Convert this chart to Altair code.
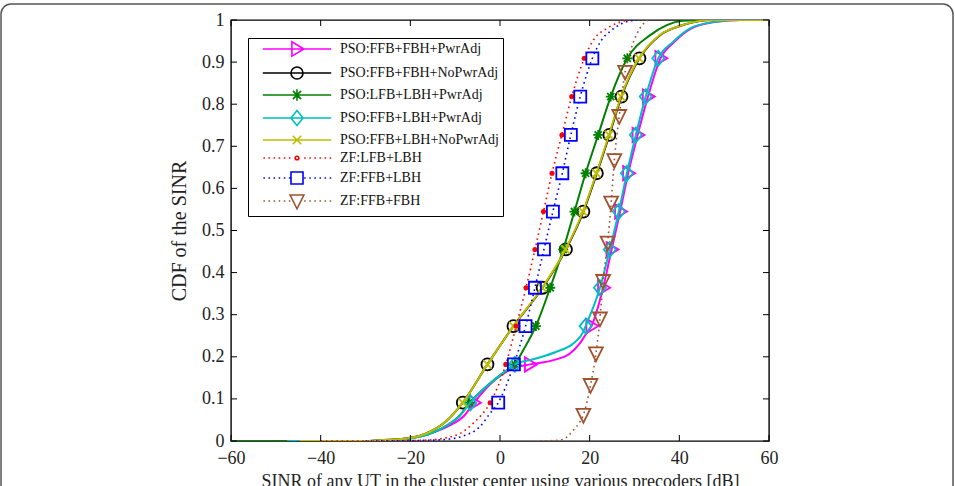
import altair as alt
import pandas as pd

SERIES = ["PSO:FFB+FBH+PwrAdj", "PSO:FFB+FBH+NoPwrAdj", "PSO:LFB+LBH+PwrAdj",
          "PSO:FFB+LBH+PwrAdj", "PSO:FFB+LBH+NoPwrAdj", "ZF:LFB+LBH",
          "ZF:FFB+LBH", "ZF:FFB+FBH"]
COLORS = ["#ff00ff", "#000000", "#008000", "#00bfbf", "#bfbf00",
          "#ff0000", "#0000ff", "#a0522d"]

X_TICKS = [-60, -40, -20, 0, 20, 40, 60]
Y_TICKS = [0, 0.1, 0.2, 0.3, 0.4, 0.5, 0.6, 0.7, 0.8, 0.9, 1.0]

MARK_Y = [0.091, 0.182, 0.273, 0.364, 0.455, 0.545, 0.636, 0.727, 0.818, 0.909]

# PSO:FFB+FBH+PwrAdj (magenta)
mag_x = [-50, -30, -25, -20, -15, -11, -8, -5.8, -2.2, 0.5, 3.0, 6.7, 11.9, 15.6, 17.8, 19.3,
         20.4, 23.0, 24.9, 26.8, 28.6, 30.7, 33.0, 35.8, 38.9, 42.7, 47.8, 54, 60]
mag_y = [0, 0, 0.002, 0.007, 0.02, 0.038, 0.06, 0.091, 0.135, 0.158, 0.173, 0.182, 0.192, 0.208,
         0.232, 0.256, 0.273, 0.364, 0.455, 0.545, 0.636, 0.727, 0.818, 0.909, 0.948, 0.98,
         0.995, 1, 1]
mag_mx = [-5.8, 6.7, 20.4, 23.0, 24.9, 26.8, 28.6, 30.7, 33.0, 35.8]

# PSO:FFB+FBH+NoPwrAdj (black)
blk_x = [-55, -30, -26.8, -20.8, -15.6, -11.9, -8.3, -2.8, 3.0, 9.5, 14.7, 18.6, 21.6, 24.4,
         27.1, 31.1, 35.7, 40.8, 47.5, 60]
blk_y = [0, 0, 0.002, 0.006, 0.022, 0.048, 0.091, 0.182, 0.273, 0.364, 0.455, 0.545, 0.636,
         0.727, 0.818, 0.909, 0.964, 0.988, 1, 1]
blk_mx = [-8.3, -2.8, 3.0, 9.5, 14.7, 18.6, 21.6, 24.4, 27.1, 31.1]

# PSO:LFB+LBH+PwrAdj (green)
grn_x = [-60, -30, -25, -20, -15, -12, -9, -6.8, -4.5, -2.2, 0.5, 3.3, 5.2, 8.0, 11.2, 14.1,
         16.6, 19.1, 21.9, 24.7, 28.4, 33.5, 37.2, 40.8, 46, 60]
grn_y = [0, 0, 0.002, 0.006, 0.02, 0.036, 0.06, 0.091, 0.115, 0.137, 0.160, 0.182, 0.216,
         0.273, 0.364, 0.455, 0.545, 0.636, 0.727, 0.818, 0.909, 0.964, 0.988, 0.998, 1, 1]
grn_mx = [-6.8, 3.3, 8.0, 11.2, 14.1, 16.6, 19.1, 21.9, 24.7, 28.4]

# PSO:FFB+LBH+PwrAdj (cyan)
cyn_x = [-47.5, -30, -25, -20, -15, -12, -9, -6.6, -4.5, -2.2, 0.5, 3.3, 7.4, 12.6, 16.4, 18.6,
         19.1, 22.3, 24.5, 26.5, 28.3, 30.3, 32.5, 35.3, 38.6, 42.4, 47.5, 53.5, 60]
cyn_y = [0, 0, 0.002, 0.006, 0.02, 0.036, 0.06, 0.091, 0.115, 0.137, 0.160, 0.182, 0.194,
         0.212, 0.232, 0.26, 0.273, 0.364, 0.455, 0.545, 0.636, 0.727, 0.818, 0.909, 0.948,
         0.98, 0.995, 1, 1]
cyn_mx = [-6.6, 3.3, 19.1, 22.3, 24.5, 26.5, 28.3, 30.3, 32.5, 35.3]

# PSO:FFB+LBH+NoPwrAdj (olive)
yel_x = [-44.6, -30, -26.8, -20.8, -15.6, -11.9, -8.3, -2.8, 3.0, 9.4, 14.6, 18.5, 21.5, 24.3,
         27.0, 31.0, 35.6, 40.7, 47.5, 60]
yel_y = [0, 0, 0.002, 0.006, 0.022, 0.048, 0.091, 0.182, 0.273, 0.364, 0.455, 0.545, 0.636,
         0.727, 0.818, 0.909, 0.964, 0.988, 1, 1]
yel_mx = [-8.3, -2.8, 3.0, 9.4, 14.6, 18.5, 21.5, 24.3, 27.0, 31.0]

# ZF:LFB+LBH (red dotted)
red_x = [-40, -27, -20, -15, -11.9, -8.9, -6.0, -2.2, 1.3, 3.6, 5.8, 7.8, 9.7, 11.6, 13.8,
         16.0, 18.8, 21.0, 23.8, 26.8, 29]
red_y = [0, 0, 0.001, 0.003, 0.008, 0.018, 0.042, 0.091, 0.182, 0.273, 0.364, 0.455, 0.545,
         0.636, 0.727, 0.818, 0.909, 0.955, 0.98, 0.995, 1]
red_mx = [-2.2, 1.3, 3.6, 5.8, 7.8, 9.7, 11.6, 13.8, 16.0, 18.8]

# ZF:FFB+LBH (blue dotted)
blu_x = [-30, -20, -15, -11, -8.2, -4.5, -2.2, -0.4, 3.1, 5.7, 7.8, 9.8, 11.8, 13.9, 15.8,
         17.9, 20.6, 22.5, 24.9, 27.5, 30.5]
blu_y = [0, 0.001, 0.002, 0.005, 0.012, 0.034, 0.066, 0.091, 0.182, 0.273, 0.364, 0.455,
         0.545, 0.636, 0.727, 0.818, 0.909, 0.95, 0.976, 0.993, 1]
blu_mx = [-0.4, 3.1, 5.7, 7.8, 9.8, 11.8, 13.9, 15.8, 17.9, 20.6]

# ZF:FFB+FBH (brown dotted)
brn_x = [9, 12, 14.1, 16.4, 17.6, 18.6, 20.2, 21.4, 22.3, 23.0, 24.0, 24.8, 25.5, 26.6, 27.9,
         29.5, 31.2, 33]
brn_y = [0, 0.001, 0.004, 0.026, 0.042, 0.062, 0.133, 0.208, 0.291, 0.38, 0.471, 0.566,
         0.667, 0.772, 0.877, 0.94, 0.98, 1]
brn_mx = [18.6, 20.2, 21.4, 22.3, 23.0, 24.0, 24.8, 25.5, 26.6, 27.9]
brn_my = [0.062, 0.133, 0.208, 0.291, 0.38, 0.471, 0.566, 0.667, 0.772, 0.877]

LINES = [(mag_x, mag_y), (blk_x, blk_y), (grn_x, grn_y), (cyn_x, cyn_y), (yel_x, yel_y),
         (red_x, red_y), (blu_x, blu_y), (brn_x, brn_y)]
MARKS = [(mag_mx, MARK_Y), (blk_mx, MARK_Y), (grn_mx, MARK_Y), (cyn_mx, MARK_Y),
         (yel_mx, MARK_Y), (red_mx, MARK_Y), (blu_mx, MARK_Y), (brn_mx, brn_my)]

# ---- styling ----
SERIF = "Liberation Serif"
TRI_R = "M-0.85,-1.2L1.15,0L-0.85,1.2Z"
CIRC = "M-1,0A1,1 0 1,0 1,0A1,1 0 1,0 -1,0Z"
STAR = "M0,-0.95L0,0.95M-0.95,0L0.95,0M-0.68,-0.68L0.68,0.68M-0.68,0.68L0.68,-0.68"
DIAM = "M0,-1.25L1,0L0,1.25L-1,0Z"
XMRK = "M-0.7,-0.7L0.7,0.7M-0.7,0.7L0.7,-0.7"
DOT = "M-0.3,0A0.3,0.3 0 1,0 0.3,0A0.3,0.3 0 1,0 -0.3,0Z"
SQR = "M-1,-1L1,-1L1,1L-1,1Z"
TRI_D = "M-1.15,-1L1.15,-1L0,1.3Z"
MARKER_PATHS = [TRI_R, CIRC, STAR, DIAM, XMRK, None, SQR, TRI_D]
DASHED = [False, False, False, False, False, True, True, True]

SOLID_SEG = "M-5.7,0L5.7,0"


def dotted_seg():
    parts = []
    a = -5.6
    while a < 5.7:
        if abs(a) > 1.2:
            parts.append("M%.2f,0L%.2f,0" % (a, a + 0.25))
        a += 0.85
    return "".join(parts)


LEGEND_PATHS = []
for i in range(8):
    seg = dotted_seg() if DASHED[i] else SOLID_SEG
    mk = MARKER_PATHS[i] if MARKER_PATHS[i] else DOT
    LEGEND_PATHS.append(seg + mk)

XSCALE = alt.Scale(domain=[-60, 60], nice=False, zero=False)
YSCALE = alt.Scale(domain=[0, 1], nice=False, zero=False)
X_TITLE = "SINR of any UT in the cluster center using various precoders [dB]"
Y_TITLE = "CDF of the SINR"

XAX = alt.Axis(values=X_TICKS, labelFont=SERIF, labelFontSize=18, labelColor="#222",
               labelPadding=8, ticks=False, domain=False, grid=False, titleFont=SERIF,
               titleFontSize=18, titleFontWeight="normal", titleColor="#222", titlePadding=5,
               labelFlush=False)
YAX = alt.Axis(values=Y_TICKS, format=".1~f", labelFont=SERIF, labelFontSize=18,
               labelColor="#222", labelPadding=7, ticks=False, domain=False, grid=False,
               titleFont=SERIF, titleFontSize=20, titleFontWeight="normal", titleColor="#222",
               titlePadding=12, labelFlush=False)


def X(field="x"):
    return alt.X(field + ":Q", scale=XSCALE, axis=XAX, title=X_TITLE)


def Y(field="y"):
    return alt.Y(field + ":Q", scale=YSCALE, axis=YAX, title=Y_TITLE)


W, H = 538, 421
layers = []

# outer rounded frame of the figure (decoration)
frame = alt.Chart(alt.Data(values=[{"f": 1}])).mark_rect(
    fill=None, stroke="#555", strokeWidth=1.5, cornerRadius=10
).encode(x=alt.value(-230), x2=alt.value(722), y=alt.value(-16), y2=alt.value(560))
layers.append(frame)

for i, name in enumerate(SERIES):
    lx, ly = LINES[i]
    ldf = pd.DataFrame({"x": lx, "y": ly})
    if DASHED[i]:
        ln = alt.Chart(ldf).mark_line(interpolate="monotone", color=COLORS[i], strokeWidth=1.6,
                                      strokeDash=[1.6, 3.6], clip=True)
    else:
        ln = alt.Chart(ldf).mark_line(interpolate="monotone", color=COLORS[i], strokeWidth=2,
                                      clip=True)
    layers.append(ln.encode(x=X(), y=Y()))
    mx, my = MARKS[i]
    mdf = pd.DataFrame({"x": mx, "y": my})
    if MARKER_PATHS[i] is None:
        mk = alt.Chart(mdf).mark_point(filled=True, shape="circle", size=26, color=COLORS[i],
                                       opacity=1, clip=True)
    else:
        sz = 110 if MARKER_PATHS[i] in (STAR,) else 144
        mk = alt.Chart(mdf).mark_point(filled=False, shape=MARKER_PATHS[i], size=sz,
                                       color=COLORS[i], strokeWidth=1.8, opacity=1, clip=True)
    layers.append(mk.encode(x=X(), y=Y()))

# inward ticks on all four sides
xt = pd.DataFrame({"x": X_TICKS})
yt = pd.DataFrame({"y": Y_TICKS})
tick_style = dict(color="#000", strokeWidth=1)
layers.append(alt.Chart(xt).mark_rule(**tick_style).encode(x=X(), y=alt.value(H), y2=alt.value(H - 6)))
layers.append(alt.Chart(xt).mark_rule(**tick_style).encode(x=X(), y=alt.value(0), y2=alt.value(6)))
layers.append(alt.Chart(yt).mark_rule(**tick_style).encode(y=Y(), x=alt.value(0), x2=alt.value(6)))
layers.append(alt.Chart(yt).mark_rule(**tick_style).encode(y=Y(), x=alt.value(W), x2=alt.value(W - 6)))

# legend source (points placed outside the domain and clipped)
leg_df = pd.DataFrame({"series": SERIES, "x": [100] * 8, "y": [0.5] * 8})
LEG = alt.Legend(title=None, orient="none", legendX=17, legendY=18, padding=4, rowPadding=3,
                 symbolOffset=38, labelOffset=36, labelFont=SERIF, labelFontSize=14,
                 labelColor="#111", strokeColor="#000", fillColor="#fff",
                 symbolStrokeWidth=1.6, symbolSize=144, labelLimit=400)
legend_layer = alt.Chart(leg_df).mark_point(filled=False, size=144, strokeWidth=1.6,
                                            clip=True, opacity=1).encode(
    x=X(), y=Y(),
    color=alt.Color("series:N", scale=alt.Scale(domain=SERIES, range=COLORS), legend=LEG),
    shape=alt.Shape("series:N", scale=alt.Scale(domain=SERIES, range=LEGEND_PATHS), legend=LEG),
)
layers.append(legend_layer)

chart = alt.layer(*layers).properties(
    width=W, height=H,
    autosize=alt.AutoSizeParams(type="none"),
    padding={"left": 231, "top": 20, "right": 186, "bottom": 45},
    background="white",
).configure_view(stroke="#000", strokeWidth=1.4)

chart.save("out.html", embed_options={"renderer": "svg", "actions": False})
